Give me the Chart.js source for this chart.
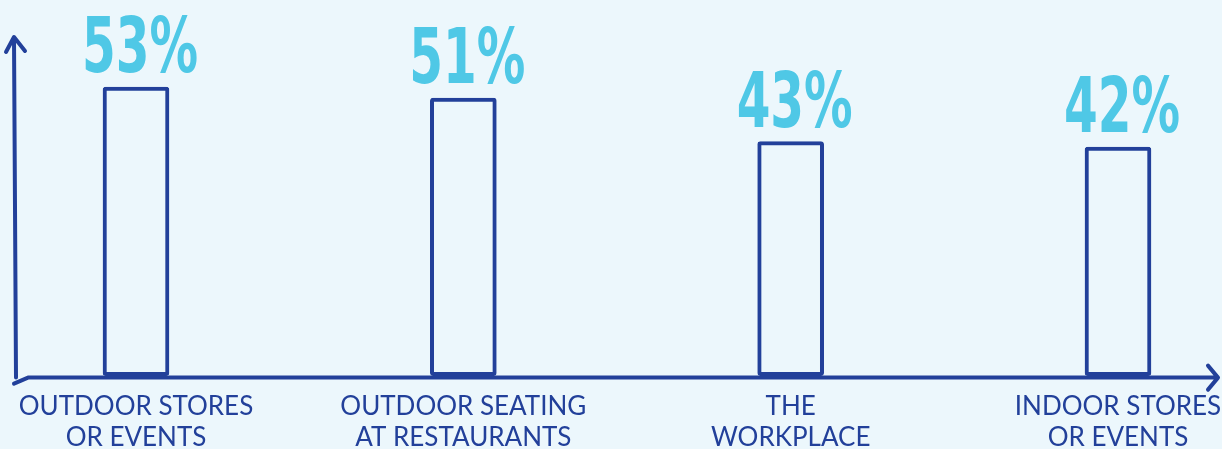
<!DOCTYPE html>
<html>
<head>
<meta charset="utf-8">
<script src="https://cdn.jsdelivr.net/npm/chart.js@4/dist/chart.umd.min.js"></script>
<style>
  html,body{margin:0;padding:0;background:#ecf7fc;}
  #wrap{width:1222px;height:449px;}
</style>
</head>
<body>
<div id="wrap"><canvas id="chart"></canvas></div>
<script>
// categories + values
const categories = [
  ["OUTDOOR STORES", "OR EVENTS"],
  ["OUTDOOR SEATING", "AT RESTAURANTS"],
  ["THE", "WORKPLACE"],
  ["INDOOR STORES", "OR EVENTS"]
];
const shares = [53, 51, 43, 42];
const valueLabels = ["53%", "51%", "43%", "42%"];

const navy = "#22409a";
const cyan = "#4fc8e6";
const paper = "#ecf7fc";

// hand drawn style axes with arrows
const axisArrows = {
  id: "axisArrows",
  afterDraw(chart){
    const ctx = chart.ctx;
    const y0 = chart.scales.y.getPixelForValue(0) + 2;
    const x0 = 16;
    ctx.save();
    ctx.strokeStyle = navy;
    ctx.lineWidth = 4;
    ctx.lineCap = "round";
    ctx.lineJoin = "round";
    ctx.beginPath();
    ctx.moveTo(x0, y0);
    ctx.lineTo(x0 - 2, 38);
    ctx.moveTo(x0 - 10, 52);
    ctx.lineTo(x0 - 2, 37);
    ctx.lineTo(x0 + 9, 51);
    ctx.moveTo(x0 - 2, y0 + 6);
    ctx.lineTo(x0 + 12, y0);
    ctx.lineTo(1216, y0);
    ctx.moveTo(1208, y0 - 12);
    ctx.lineTo(1218, y0);
    ctx.lineTo(1208, y0 + 12);
    ctx.stroke();
    ctx.restore();
  }
};

// percent labels over bars, squeezed to look like the brush lettering
const topLabels = {
  id: "topLabels",
  afterDatasetsDraw(chart){
    const ctx = chart.ctx;
    const meta = chart.getDatasetMeta(0);
    const sx = 0.7;
    ctx.save();
    ctx.fillStyle = cyan;
    ctx.font = 'bold 77px "DejaVu Sans Condensed"';
    ctx.textAlign = "center";
    ctx.textBaseline = "alphabetic";
    meta.data.forEach((bar, i) => {
      ctx.save();
      ctx.translate(bar.x + 4, bar.y - 15);
      ctx.scale(sx, 1);
      ctx.fillText(valueLabels[i], 0, 0);
      ctx.restore();
    });
    ctx.restore();
  }
};

new Chart(document.getElementById("chart"), {
  type: "bar",
  data: {
    labels: categories,
    datasets: [{
      data: shares,
      backgroundColor: paper,
      borderColor: navy,
      borderWidth: 4,
      borderSkipped: false,
      borderRadius: 3,
      barThickness: 66,
      clip: false
    }]
  },
  options: {
    responsive: true,
    maintainAspectRatio: false,
    animation: false,
    layout: {padding: {left: 136, right: 104, top: 30, bottom: -19}},
    plugins: {legend: {display: false}, tooltip: {enabled: false}},
    scales: {
      x: {
        offset: false,
        grid: {display: false, drawTicks: false},
        border: {display: false},
        afterFit(scale){
          // let the outer labels hang off the plot area like in the original
          scale.paddingLeft = 0;
          scale.paddingRight = 0;
        },
        ticks: {
          color: navy,
          padding: 15,
          autoSkip: false,
          maxRotation: 0,
          font: {family: "Lato", size: 26, lineHeight: 1.2}
        }
      },
      y: {
        display: false,
        min: 0,
        max: 63.5
      }
    }
  },
  plugins: [axisArrows, topLabels]
});
</script>
</body>
</html>
